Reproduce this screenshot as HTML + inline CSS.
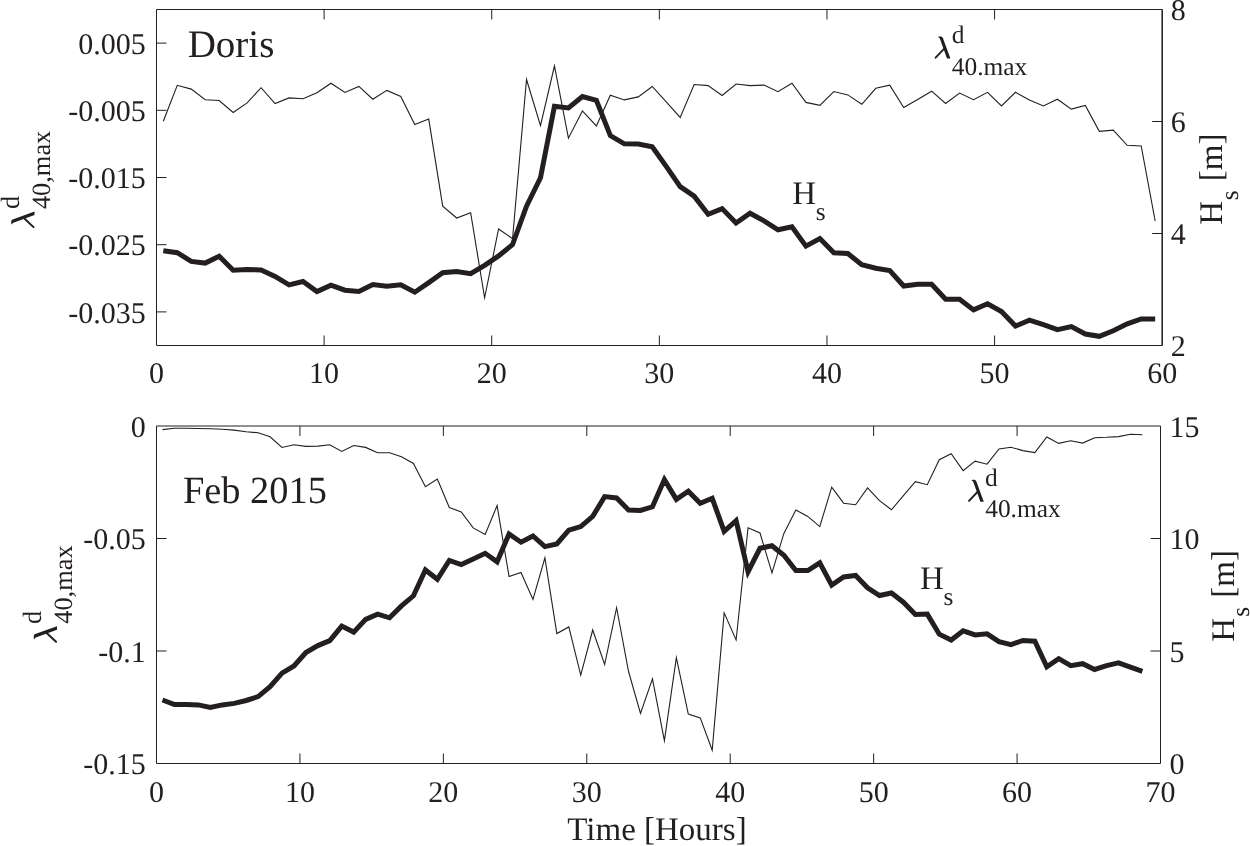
<!DOCTYPE html>
<html><head><meta charset="utf-8"><title>chart</title>
<style>
html,body{margin:0;padding:0;background:#fff;}
body{width:1250px;height:846px;overflow:hidden;}
svg{display:block;will-change:transform;}
text{font-family:"Liberation Serif",serif;fill:#231f20;text-rendering:geometricPrecision;}
</style></head><body>
<svg width="1250" height="846" viewBox="0 0 1250 846">
<rect width="1250" height="846" fill="#fff"/>
<path d="M156.50 9.50H1162.20V345.50H156.50Z" fill="none" stroke="#231f20" stroke-width="1" />
<path d="M324.12 9.50v10M324.12 345.50v-10M491.73 9.50v10M491.73 345.50v-10M659.35 9.50v10M659.35 345.50v-10M826.97 9.50v10M826.97 345.50v-10M994.58 9.50v10M994.58 345.50v-10M156.50 43.10h10M156.50 110.30h10M156.50 177.50h10M156.50 244.70h10M156.50 311.90h10M1162.20 121.50h-10M1162.20 233.50h-10" fill="none" stroke="#231f20" stroke-width="1" />
<path d="M1162.25 9.5V345.5" fill="none" stroke="#231f20" stroke-width="1.25" />
<path d="M156.50 426.00H1160.50V763.50H156.50Z" fill="none" stroke="#231f20" stroke-width="1" />
<path d="M299.93 426.00v10M299.93 763.50v-10M443.36 426.00v10M443.36 763.50v-10M586.79 426.00v10M586.79 763.50v-10M730.21 426.00v10M730.21 763.50v-10M873.64 426.00v10M873.64 763.50v-10M1017.07 426.00v10M1017.07 763.50v-10M156.50 538.50h10M156.50 651.00h10M1160.50 538.50h-10M1160.50 651.00h-10" fill="none" stroke="#231f20" stroke-width="1" />
<polyline points="163.30,121.30 177.27,85.30 191.24,89.10 205.21,99.70 219.18,100.50 233.15,112.50 247.12,102.90 261.09,87.70 275.06,103.50 289.03,97.90 303.00,98.70 316.97,92.80 330.94,83.20 344.91,92.40 358.88,86.40 372.85,99.20 386.82,90.40 400.79,96.50 414.76,124.50 428.73,119.10 442.70,206.20 456.67,218.00 470.64,212.70 484.61,297.80 498.58,229.00 512.55,238.70 526.52,79.50 540.49,125.70 554.46,66.00 568.43,138.20 582.40,110.90 596.37,125.90 610.34,95.30 624.31,99.90 638.28,96.90 652.25,86.50 666.22,101.80 680.19,117.40 694.16,84.50 708.13,85.60 722.10,95.50 736.07,84.00 750.04,85.60 764.01,85.10 777.98,91.70 791.95,83.20 805.92,102.40 819.89,105.30 833.86,91.50 847.83,94.90 861.80,104.30 875.77,88.30 889.74,85.10 903.71,107.50 917.68,99.40 931.65,91.20 945.62,103.50 959.59,93.10 973.56,99.70 987.53,92.30 1001.50,105.90 1015.47,92.30 1029.44,100.00 1043.41,106.00 1057.38,99.20 1071.35,109.10 1085.32,105.50 1099.29,131.30 1113.26,130.10 1127.23,145.30 1141.20,146.00 1155.17,221.00" fill="none" stroke="#231f20" stroke-width="1.1" stroke-linejoin="miter" stroke-miterlimit="10"/>
<polyline points="163.30,250.80 177.27,252.70 191.24,261.40 205.21,263.10 219.18,256.20 233.15,270.30 247.12,269.40 261.09,270.00 275.06,276.40 289.03,284.90 303.00,281.50 316.97,291.60 330.94,285.20 344.91,290.20 358.88,291.50 372.85,284.60 386.82,286.30 400.79,284.70 414.76,292.20 428.73,282.60 442.70,272.80 456.67,271.50 470.64,273.60 484.61,265.30 498.58,255.90 512.55,244.60 526.52,206.20 540.49,177.80 554.46,106.20 568.43,108.00 582.40,96.50 596.37,100.40 610.34,135.60 624.31,143.80 638.28,144.10 652.25,146.70 666.22,166.40 680.19,186.60 694.16,196.10 708.13,214.20 722.10,208.60 736.07,223.00 750.04,213.20 764.01,220.90 777.98,229.80 791.95,226.70 805.92,246.10 819.89,238.60 833.86,252.70 847.83,253.50 861.80,264.80 875.77,268.30 889.74,270.50 903.71,286.00 917.68,284.30 931.65,284.30 945.62,299.20 959.59,299.20 973.56,309.90 987.53,303.80 1001.50,311.50 1015.47,326.10 1029.44,320.10 1043.41,324.70 1057.38,329.60 1071.35,326.60 1085.32,334.00 1099.29,336.30 1113.26,330.70 1127.23,323.80 1141.20,318.90 1155.17,318.90" fill="none" stroke="#231f20" stroke-width="5.0" stroke-linejoin="miter" stroke-miterlimit="3"/>
<polyline points="162.50,429.60 174.45,428.30 186.40,428.30 198.35,428.50 210.30,428.80 222.25,429.30 234.20,430.10 246.15,431.70 258.10,432.80 270.05,436.80 282.00,447.50 293.95,444.80 305.90,446.40 317.85,446.10 329.80,444.80 341.75,451.40 353.70,445.50 365.65,447.40 377.60,452.70 389.55,452.70 401.50,456.80 413.45,463.50 425.40,486.70 437.35,479.10 449.30,507.50 461.25,511.90 473.20,527.90 485.15,534.50 497.10,505.60 509.05,576.50 521.00,572.50 532.95,599.40 544.90,557.90 556.85,633.60 568.80,626.90 580.75,675.10 592.70,630.00 604.65,664.50 616.60,607.70 628.55,671.50 640.50,713.40 652.45,678.90 664.40,740.60 676.35,657.70 688.30,714.00 700.25,717.90 712.20,750.20 724.15,612.90 736.10,640.00 748.05,527.70 760.00,533.00 771.95,572.80 783.90,533.40 795.85,510.00 807.80,516.40 819.75,526.60 831.70,487.20 843.65,503.20 855.60,504.70 867.55,487.90 879.50,500.70 891.45,509.80 903.40,495.70 915.35,481.60 927.30,484.70 939.25,459.70 951.20,453.70 963.15,470.60 975.10,461.10 987.05,464.20 999.00,448.90 1010.95,447.20 1022.90,450.60 1034.85,452.60 1046.80,437.00 1058.75,443.40 1070.70,440.80 1082.65,443.10 1094.60,437.70 1106.55,437.30 1118.50,436.60 1130.45,434.30 1142.40,434.70" fill="none" stroke="#231f20" stroke-width="1.1" stroke-linejoin="miter" stroke-miterlimit="10"/>
<polyline points="162.50,700.00 174.45,704.50 186.40,704.50 198.35,704.90 210.30,707.40 222.25,704.90 234.20,703.40 246.15,700.50 258.10,696.60 270.05,686.60 282.00,673.10 293.95,666.00 305.90,652.50 317.85,645.60 329.80,640.60 341.75,626.10 353.70,632.10 365.65,619.40 377.60,614.20 389.55,617.80 401.50,605.90 413.45,595.80 425.40,570.00 437.35,579.30 449.30,560.40 461.25,564.60 473.20,559.10 485.15,553.30 497.10,561.80 509.05,534.00 521.00,542.20 532.95,536.00 544.90,546.60 556.85,544.00 568.80,530.20 580.75,526.60 592.70,516.40 604.65,496.60 616.60,497.90 628.55,510.00 640.50,510.40 652.45,506.80 664.40,479.60 676.35,499.40 688.30,491.20 700.25,503.20 712.20,498.30 724.15,531.30 736.10,520.60 748.05,571.70 760.00,548.30 771.95,545.70 783.90,555.30 795.85,570.60 807.80,570.60 819.75,562.80 831.70,585.10 843.65,577.00 855.60,575.50 867.55,587.80 879.50,595.50 891.45,593.00 903.40,602.20 915.35,614.50 927.30,614.10 939.25,634.20 951.20,640.00 963.15,630.80 975.10,634.90 987.05,633.80 999.00,641.70 1010.95,644.70 1022.90,640.50 1034.85,641.20 1046.80,666.70 1058.75,658.60 1070.70,665.60 1082.65,663.70 1094.60,669.50 1106.55,665.60 1118.50,662.80 1130.45,667.20 1142.40,671.40" fill="none" stroke="#231f20" stroke-width="5.0" stroke-linejoin="miter" stroke-miterlimit="3"/>
<text x="145.70" y="53.70" font-size="30" text-anchor="end">0.005</text>
<text x="145.70" y="120.90" font-size="30" text-anchor="end">-0.005</text>
<text x="145.70" y="188.10" font-size="30" text-anchor="end">-0.015</text>
<text x="145.70" y="255.30" font-size="30" text-anchor="end">-0.025</text>
<text x="145.70" y="322.50" font-size="30" text-anchor="end">-0.035</text>
<text x="1170.80" y="20.10" font-size="30" text-anchor="start">8</text>
<text x="1170.80" y="132.10" font-size="30" text-anchor="start">6</text>
<text x="1170.80" y="244.10" font-size="30" text-anchor="start">4</text>
<text x="1170.80" y="356.10" font-size="30" text-anchor="start">2</text>
<text x="145.70" y="436.60" font-size="30" text-anchor="end">0</text>
<text x="145.70" y="549.10" font-size="30" text-anchor="end">-0.05</text>
<text x="145.70" y="661.60" font-size="30" text-anchor="end">-0.1</text>
<text x="145.70" y="774.10" font-size="30" text-anchor="end">-0.15</text>
<text x="1169.50" y="436.60" font-size="30" text-anchor="start">15</text>
<text x="1169.50" y="549.10" font-size="30" text-anchor="start">10</text>
<text x="1169.50" y="661.60" font-size="30" text-anchor="start">5</text>
<text x="1169.50" y="774.10" font-size="30" text-anchor="start">0</text>
<text x="156.50" y="383.40" font-size="30" text-anchor="middle">0</text>
<text x="324.12" y="383.40" font-size="30" text-anchor="middle">10</text>
<text x="491.73" y="383.40" font-size="30" text-anchor="middle">20</text>
<text x="659.35" y="383.40" font-size="30" text-anchor="middle">30</text>
<text x="826.97" y="383.40" font-size="30" text-anchor="middle">40</text>
<text x="994.58" y="383.40" font-size="30" text-anchor="middle">50</text>
<text x="1162.20" y="383.40" font-size="30" text-anchor="middle">60</text>
<text x="156.50" y="801.60" font-size="30" text-anchor="middle">0</text>
<text x="299.93" y="801.60" font-size="30" text-anchor="middle">10</text>
<text x="443.36" y="801.60" font-size="30" text-anchor="middle">20</text>
<text x="586.79" y="801.60" font-size="30" text-anchor="middle">30</text>
<text x="730.21" y="801.60" font-size="30" text-anchor="middle">40</text>
<text x="873.64" y="801.60" font-size="30" text-anchor="middle">50</text>
<text x="1017.07" y="801.60" font-size="30" text-anchor="middle">60</text>
<text x="1160.50" y="801.60" font-size="30" text-anchor="middle">70</text>
<text x="657.00" y="839.60" font-size="33" text-anchor="middle">Time [Hours]</text>
<text x="187.68" y="56.60" font-size="39" text-anchor="start">Doris</text>
<text x="182.89" y="502.50" font-size="38.4" text-anchor="start">Feb 2015</text>
<g transform="translate(934.40 58.60)"><path d="M3.7,-21.4 C4.0,-22.1 6.6,-22.2 7.7,-21.6 C8.1,-21.3 8.3,-21.0 8.5,-20.6 L16.0,0 L12.6,0 L5.4,-20.0 C5.1,-20.6 4.5,-21.0 3.7,-21.4 Z" fill="#231f20"/><path d="M9.6,-9.8 L1.2,-0.9" stroke="#231f20" stroke-width="1.9" stroke-linecap="round" fill="none"/></g>
<text x="951.68" y="43.00" font-size="25.4" text-anchor="start">d</text>
<text x="951.80" y="74.50" font-size="25.4" text-anchor="start">40.max</text>
<g transform="translate(967.80 501.80)"><path d="M3.7,-21.4 C4.0,-22.1 6.6,-22.2 7.7,-21.6 C8.1,-21.3 8.3,-21.0 8.5,-20.6 L16.0,0 L12.6,0 L5.4,-20.0 C5.1,-20.6 4.5,-21.0 3.7,-21.4 Z" fill="#231f20"/><path d="M9.6,-9.8 L1.2,-0.9" stroke="#231f20" stroke-width="1.9" stroke-linecap="round" fill="none"/></g>
<text x="985.08" y="485.80" font-size="25.4" text-anchor="start">d</text>
<text x="985.20" y="516.60" font-size="25.4" text-anchor="start">40.max</text>
<text x="792.15" y="204.00" font-size="33.0" text-anchor="start">H</text>
<text x="815.86" y="219.70" font-size="25.4" text-anchor="start">s</text>
<text x="920.05" y="589.00" font-size="33.0" text-anchor="start">H</text>
<text x="943.46" y="604.50" font-size="25.4" text-anchor="start">s</text>
<g transform="translate(34.50 228.40) rotate(-90)">
<g transform="scale(1.060)"><path d="M3.7,-21.4 C4.0,-22.1 6.6,-22.2 7.7,-21.6 C8.1,-21.3 8.3,-21.0 8.5,-20.6 L16.0,0 L12.6,0 L5.4,-20.0 C5.1,-20.6 4.5,-21.0 3.7,-21.4 Z" fill="#231f20"/><path d="M9.6,-9.8 L1.2,-0.9" stroke="#231f20" stroke-width="1.9" stroke-linecap="round" fill="none"/></g>
<text x="19.45" y="-15.80" font-size="26.4">d</text>
<text x="19.29" y="15.20" font-size="26.4">40,max</text>
</g>
<g transform="translate(57.00 643.10) rotate(-90)">
<g transform="scale(1.060)"><path d="M3.7,-21.4 C4.0,-22.1 6.6,-22.2 7.7,-21.6 C8.1,-21.3 8.3,-21.0 8.5,-20.6 L16.0,0 L12.6,0 L5.4,-20.0 C5.1,-20.6 4.5,-21.0 3.7,-21.4 Z" fill="#231f20"/><path d="M9.6,-9.8 L1.2,-0.9" stroke="#231f20" stroke-width="1.9" stroke-linecap="round" fill="none"/></g>
<text x="19.15" y="-16.20" font-size="26.4">d</text>
<text x="19.29" y="15.30" font-size="26.4">40,max</text>
</g>
<g transform="translate(1221.90 223.80) rotate(-90)">
<text x="-0.95" y="0" font-size="33.0">H</text>
<text x="23.66" y="15.80" font-size="25.4">s</text>
<text x="42.55" y="0" font-size="33.0">[m]</text>
</g>
<g transform="translate(1233.90 640.70) rotate(-90)">
<text x="-0.95" y="0" font-size="33.0">H</text>
<text x="24.06" y="15.50" font-size="25.4">s</text>
<text x="43.05" y="0" font-size="33.0">[m]</text>
</g>
</svg>
</body></html>
